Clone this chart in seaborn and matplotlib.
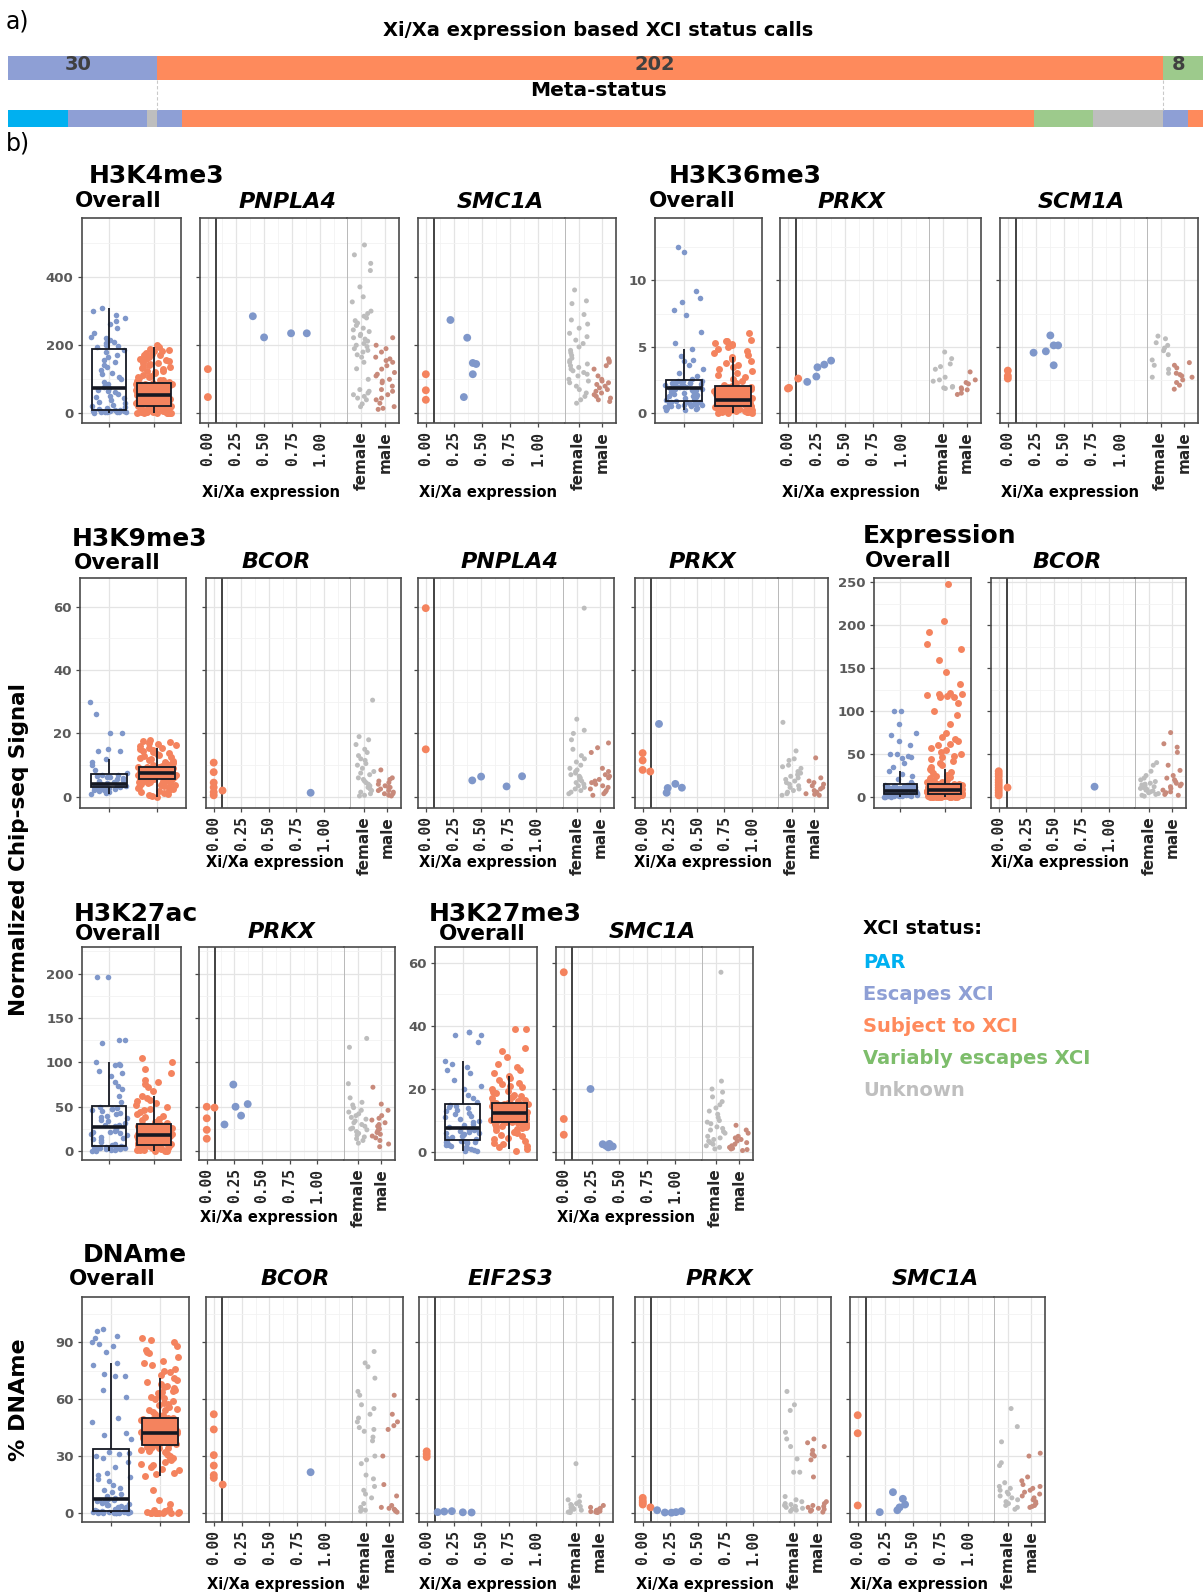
import numpy as np
import pandas as pd
import matplotlib
matplotlib.use("Agg")
import matplotlib.pyplot as plt
import seaborn as sns

# ============================ DATA ============================
# ---- panel a: XCI status calls ----
call_status = ["Escape", "Subject", "Variable"]
call_counts = [30, 202, 8]
meta_status = ["PAR", "Escape", "Unknown", "Escape", "Subject", "Variable", "Unknown", "Escape", "Subject"]
meta_counts = [12, 16, 2, 5, 171, 12, 14, 5, 3]
XCI_CUTOFF = 0.075

# ---- Overall panels (escape / subject genes) ----
k4_esc = [2, 3, 4, 5, 5, 6, 7, 7, 8, 8, 9, 9, 4, 6, 3, 8,
          12, 15, 18, 22, 26, 30, 35, 40, 44, 48, 52, 58, 62, 66, 70, 74,
          78, 85, 92, 100, 108, 115, 120, 128, 135, 142, 150, 158, 165, 172, 180, 186,
          195, 198, 202, 206, 210, 215, 220, 225, 235, 250, 262, 270, 280, 290, 300, 310]
k4_sub = [0, 1, 1, 2, 2, 3, 4, 4, 5, 6, 6, 7, 8, 9, 9, 10, 11, 12, 12, 13, 14, 15, 16, 17, 18, 18, 19, 20,
          0.5, 2.5, 5.5, 7.5, 10.5, 13.5, 16.5, 19.5,
          21, 22, 24, 25, 26, 28, 29, 31, 32, 33, 35, 36, 37, 39, 40, 42, 43, 44, 46, 47, 48, 50, 51, 52, 53, 54, 55, 55,
          22.5, 27.5, 30.5, 34, 38, 45, 49, 53,
          56, 57, 59, 60, 61, 63, 64, 66, 67, 68, 70, 71, 72, 74, 75, 76, 78, 79, 80, 82, 83, 84, 85, 86, 87, 88, 89, 90,
          58, 62, 65.5, 69, 73, 77, 81, 86.5,
          92, 95, 99, 103, 106, 110, 114, 118, 121, 125, 129, 133, 137, 141, 145, 149, 153, 157, 161, 166, 170, 174,
          178, 182, 186, 189, 194, 200, 97, 108, 123, 135, 147, 159, 172, 184]

k36_esc = [0.2, 0.25, 0.3, 0.35, 0.4, 0.45, 0.5, 0.5, 0.55, 0.6, 0.6, 0.65, 0.7, 0.7, 0.75, 0.8, 0.8, 0.85,
           0.9, 1.0, 1.0, 1.1, 1.2, 1.25, 1.3, 1.35, 1.4, 1.45, 1.5, 1.6, 1.65, 1.7, 1.75, 1.8, 1.85, 1.9,
           1.92, 1.95, 2.0, 2.0, 2.0, 2.05, 2.1, 2.1, 2.15, 2.2, 2.2, 2.25, 2.3, 2.3, 2.35, 2.4, 2.4, 2.45,
           2.6, 2.8, 3.0, 3.3, 3.6, 3.9, 4.0, 4.3, 4.8, 5.3, 6.1, 7.4, 7.8, 8.4, 8.7, 9.2, 12.1, 12.5]
k36_sub = [0.0, 0.02, 0.04, 0.06, 0.08, 0.1, 0.12, 0.14, 0.16, 0.18, 0.2, 0.22, 0.24, 0.26, 0.28, 0.3, 0.32, 0.34,
           0.36, 0.38, 0.4, 0.42, 0.43, 0.44, 0.46, 0.47, 0.48, 0.5,
           0.52, 0.54, 0.55, 0.57, 0.59, 0.61, 0.62, 0.64, 0.66, 0.68, 0.7, 0.71, 0.73, 0.75, 0.77, 0.79, 0.8, 0.82,
           0.84, 0.86, 0.88, 0.9, 0.91, 0.93, 0.95, 0.96, 0.98, 1.0,
           1.03, 1.07, 1.1, 1.14, 1.17, 1.21, 1.25, 1.28, 1.32, 1.35, 1.39, 1.43, 1.46, 1.5, 1.54, 1.57, 1.61, 1.64,
           1.68, 1.72, 1.75, 1.79, 1.82, 1.86, 1.9, 1.93, 1.97, 2.0,
           2.05, 2.15, 2.3, 2.45, 2.6, 2.75, 2.9, 3.05, 3.2, 3.35, 3.5, 3.65, 3.8, 3.95, 4.1, 4.25, 4.4, 4.55,
           4.7, 4.85, 5.0, 5.1, 5.2, 5.3, 5.4, 5.45, 5.5, 6.05]

k9_esc = [1, 1.3, 1.6, 1.9, 2.1, 2.3, 2.5, 2.6, 2.7, 2.8, 2.9, 3.0,
          3.1, 3.2, 3.3, 3.4, 3.5, 3.6, 3.7, 3.75, 3.8, 3.85, 3.9, 4.0,
          4.2, 4.5, 4.8, 5.1, 5.4, 5.7, 6.0, 6.2, 6.4, 6.6, 6.8, 7.0,
          7.5, 8.6, 10, 11, 12, 14.5, 14.5, 15, 20, 20, 26, 30]
k9_sub = [0, 0.3, 0.6, 0.9, 1.2, 1.5, 1.8, 2.1, 2.4, 2.7, 3.0, 3.2, 3.4, 3.6, 3.8, 4.0, 4.2, 4.3, 4.5, 4.6, 4.7,
          4.8, 4.9, 5.0, 5.1, 5.2, 5.35, 5.5,
          5.6, 5.65, 5.7, 5.8, 5.85, 5.9, 6.0, 6.1, 6.15, 6.2, 6.3, 6.4, 6.45, 6.5, 6.6, 6.7, 6.75, 6.8, 6.9, 7.0,
          7.05, 7.1, 7.2, 7.25, 7.3, 7.4, 7.45, 7.5,
          7.6, 7.65, 7.7, 7.8, 7.85, 7.9, 8.0, 8.1, 8.15, 8.2, 8.3, 8.4, 8.45, 8.5, 8.6, 8.7, 8.75, 8.8, 8.9, 9.0,
          9.05, 9.1, 9.2, 9.25, 9.3, 9.4, 9.45, 9.5,
          9.7, 9.9, 10.2, 10.5, 10.8, 11.1, 11.4, 11.7, 12.0, 12.3, 12.6, 12.9, 13.2, 13.5, 13.8, 14.1, 14.4, 14.7,
          15.0, 15.3, 15.5, 15.9, 16.3, 16.7, 17.0, 17.3, 17.6, 18.0]

ex_esc = [0, 0.2, 0.4, 0.6, 0.8, 1.0, 1.2, 1.4, 1.6, 1.8, 2.0, 2.1, 2.2, 2.4, 2.5, 2.6, 2.8, 2.9, 3.0,
          3.2, 3.4, 3.6, 3.9, 4.1, 4.3, 4.5, 4.8, 5.0, 5.2, 5.4, 5.7, 5.9, 6.1, 6.3, 6.5, 6.7, 6.9, 7.0,
          7.4, 7.8, 8.2, 8.6, 9.0, 9.4, 9.8, 10.2, 10.6, 11.0, 11.4, 11.8, 12.2, 12.6, 13.0, 13.3, 13.6, 13.8, 14.0,
          15, 18, 21, 24, 27, 30, 35, 40, 45, 47, 48, 50, 50, 60, 65, 72, 75, 85, 100, 100]
ex_sub = [0, 0.1, 0.2, 0.3, 0.4, 0.5, 0.6, 0.7, 0.8, 0.9, 1.0, 1.1, 1.2, 1.3, 1.4, 1.5, 1.6, 1.7, 1.8, 1.9, 2.0,
          2.1, 2.2, 2.3, 2.4, 2.5, 2.6, 2.7, 2.8, 2.85, 2.9, 3.0, 0.15, 0.45, 1.05, 1.75, 2.35, 2.75,
          0.05, 0.25, 0.35, 0.55, 0.65, 0.95, 1.25, 1.45, 1.85, 2.05, 2.45, 2.65,
          3.15, 3.3, 3.45, 3.6, 3.75, 3.9, 4.05, 4.2, 4.35, 4.5, 4.65, 4.8, 4.95, 5.1, 5.25, 5.4, 5.55, 5.7, 5.85,
          6.0, 6.15, 6.3, 6.45, 6.6, 6.75, 6.9, 7.05, 7.2, 7.4, 7.6, 7.8, 8.0, 3.5, 4.4, 5.3, 6.05, 6.85, 7.7,
          3.25, 3.7, 4.15, 4.6, 5.05, 5.5, 5.95, 6.4, 6.95, 7.3, 7.5, 7.9,
          8.2, 8.4, 8.6, 8.8, 9.0, 9.2, 9.4, 9.6, 9.9, 10.1, 10.3, 10.5, 10.8, 11.0, 11.2, 11.4, 11.7, 11.9, 12.1,
          12.3, 12.6, 12.8, 13.0, 13.2, 13.5, 13.7, 13.9, 14.1, 14.4, 14.6, 14.8, 15.0, 8.5, 9.7, 10.9, 12.0, 13.3, 14.5,
          8.3, 8.9, 9.5, 10.0, 10.6, 11.3, 11.8, 12.4, 12.9, 13.6, 14.2, 14.9,
          16, 18, 20, 23, 26, 29, 33, 37, 42, 46, 50, 55, 60, 65, 70, 75, 85, 95, 100, 110, 118, 118, 120, 120,
          132, 145, 160, 172, 178, 192, 205, 248,
          17, 19, 22, 25, 28, 31, 35, 40, 44, 48, 52, 57, 62, 67, 116, 119, 121, 117]

ac_esc = [0, 0.5, 1, 1.5, 2, 2.5, 3, 3, 3.5, 3.5, 4, 4, 4.5, 4.5, 5, 5, 5,
          6, 7, 8, 10, 12, 14, 15, 16, 18, 19, 20, 21, 22, 23, 24, 25, 27,
          28, 29, 30, 32, 34, 35, 37, 38, 40, 42, 43, 45, 46, 47, 48, 49, 50,
          55, 62, 70, 73, 78, 85, 88, 90, 97, 97, 98, 100, 122, 125, 125, 196, 196]
ac_sub = [0, 0.3, 0.6, 1, 1.3, 1.6, 2, 2.3, 2.6, 3, 3.3, 3.6, 4, 4.3, 4.6, 5, 5.2, 5.4, 5.6, 5.8, 6, 6.1, 6.3,
          6.5, 6.6, 6.8, 6.9, 7,
          7.4, 7.8, 8.2, 8.6, 9, 9.4, 9.8, 10.2, 10.6, 11, 11.4, 11.8, 12.2, 12.6, 13, 13.4, 13.8, 14.2, 14.6, 15,
          15.4, 15.8, 16.2, 16.6, 17, 17.4, 17.7, 18,
          18.4, 18.8, 19.2, 19.6, 20, 20.4, 20.8, 21.2, 21.6, 22, 22.4, 22.8, 23.2, 23.6, 24, 24.5, 25, 25.5, 26,
          26.5, 27, 27.5, 28, 28.5, 29, 29.3, 29.7, 30,
          31, 32, 33, 34, 35, 36, 38, 40, 42, 44, 46, 48, 50, 52, 54, 56, 58, 60, 62, 68, 72, 76, 78, 80, 88, 93,
          100, 105]

me3_esc = [0.2, 0.5, 0.8, 1, 1.3, 1.6, 1.9, 2.1, 2.4, 2.7, 2.9, 3.1, 3.2, 3.3, 3.4, 3.5,
           3.8, 4.1, 4.4, 4.7, 5, 5.3, 5.6, 5.9, 6.2, 6.5, 6.8, 7.0, 7.1, 7.2, 7.3, 7.5,
           8, 8.5, 9, 9.5, 10, 10.5, 11, 11.5, 12, 12.5, 13, 13.5, 14, 14.3, 14.6, 15,
           16, 17, 18, 20, 21, 23, 25, 26, 27, 28, 29, 35, 37, 37, 38, 38]
me3_sub = [0.5, 1, 1.5, 2, 2.5, 3, 3.5, 4, 4.5, 5, 5.5, 6, 6.3, 6.6, 6.9, 7.2, 7.5, 7.8, 8, 8.2, 8.4, 8.6, 8.8,
           9, 9.1, 9.2, 9.4, 9.5,
           9.6, 9.7, 9.8, 9.9, 10, 10.1, 10.2, 10.4, 10.5, 10.6, 10.8, 10.9, 11, 11.1, 11.2, 11.4, 11.5, 11.6,
           11.8, 11.9, 12, 12.1, 12.2, 12.3, 12.4, 12.45, 12.5, 12.5,
           12.6, 12.7, 12.8, 12.9, 13, 13.1, 13.2, 13.4, 13.5, 13.6, 13.8, 13.9, 14, 14.1, 14.2, 14.4, 14.5, 14.6,
           14.8, 14.9, 15, 15.1, 15.2, 15.3, 15.35, 15.4, 15.45, 15.5,
           15.7, 16, 16.3, 16.6, 17, 17.4, 17.8, 18.2, 18.6, 19, 19.5, 20, 20.5, 21, 21.5, 22, 23, 23.5, 24, 25,
           26, 27, 28, 30, 32, 33, 39, 39]

dn_esc = [0, 0, 0, 0.1, 0.1, 0.2, 0.2, 0.3, 0.3, 0.4, 0.5, 0.5, 0.6, 0.6, 0.7, 0.8, 0.8, 0.9, 0.9, 1,
          1.1, 1.3, 1.5, 1.7, 2, 2.2, 2.5, 2.8, 3, 3.3, 3.6, 4, 4.4, 4.8, 5.2, 5.7, 6.2, 6.6, 6.8, 7,
          7.5, 8, 9, 10, 11, 12, 13, 15, 17, 18, 19, 20, 21, 24, 27, 29, 30, 31, 31.5, 32,
          39, 41, 42, 48, 50, 61, 65, 72, 72, 73, 78, 79, 85, 88, 89, 90, 92, 93, 96, 97]
dn_sub = [0, 0, 0, 0, 0, 0, 0, 0.5, 0.5, 1, 1, 1.5, 2, 5, 7, 12, 19.5, 21, 22.5, 24, 25.5, 27, 28, 29, 30, 31,
          32, 33, 34, 34.5, 35, 35.5, 20.5, 23, 26, 28.5, 30.5, 32.5, 33.5, 35, 0, 0,
          36.2, 36.4, 36.6, 36.8, 37, 37.2, 37.4, 37.6, 37.8, 38, 38.2, 38.4, 38.6, 38.8, 39, 39.2, 39.4, 39.6,
          39.8, 40, 40.2, 40.4, 40.6, 40.8, 41, 41.2, 41.4, 41.6, 41.7, 41.8, 41.9, 42,
          36.3, 37.1, 37.9, 38.7, 39.5, 40.3, 41.1, 41.5, 36.9, 39.9,
          42.2, 42.5, 42.8, 43, 43.3, 43.5, 43.8, 44, 44.3, 44.5, 44.8, 45, 45.3, 45.5, 45.8, 46, 46.3, 46.5,
          46.8, 47, 47.3, 47.5, 47.8, 48, 48.3, 48.5, 48.8, 49, 49.3, 49.5, 49.8, 50,
          42.6, 43.6, 44.6, 45.6, 46.6, 47.6, 48.6, 49.6, 43.1, 46.1,
          51, 52, 53, 54, 55, 56, 57, 58, 59, 60, 61, 62, 63, 64, 65, 66, 67, 68, 69, 70, 71, 72.5, 74, 76, 78,
          80, 82, 84, 86, 88, 90, 92, 51.5, 54.5, 57.5, 60.5, 63.5, 66.5, 75, 79, 85, 91]

# ---- gene panels: Xi/Xa (subject / escape samples), female & male strips ----
k4_pnpla4_sub_x = [0, 0]
k4_pnpla4_sub_y = [130, 48]
k4_pnpla4_esc_x = [0.40, 0.50, 0.74, 0.88]
k4_pnpla4_esc_y = [285, 223, 235, 235]
k4_pnpla4_female = [494, 465, 440, 419, 371, 342, 327, 300, 293, 285, 280, 272, 265, 258, 250, 245, 240, 232,
                    228, 222, 218, 212, 205, 200, 196, 190, 185, 180, 172, 165, 150, 131, 100, 70, 65, 60, 55,
                    50, 45, 40, 28, 20]
k4_pnpla4_male = [222, 200, 190, 180, 165, 160, 155, 150, 140, 130, 120, 115, 110, 100, 95, 90, 80, 70, 65, 55,
                  45, 40, 30, 20, 15, 12]

k4_smc1a_sub_x = [0, 0, 0]
k4_smc1a_sub_y = [115, 68, 40]
k4_smc1a_esc_x = [0.22, 0.37, 0.42, 0.45, 0.42, 0.34]
k4_smc1a_esc_y = [274, 222, 148, 145, 115, 48]
k4_smc1a_female = [362, 330, 322, 290, 274, 262, 250, 235, 225, 215, 205, 195, 185, 178, 170, 162, 155, 150,
                   145, 140, 135, 130, 125, 120, 115, 110, 100, 95, 90, 80, 70, 60, 50, 40, 30]
k4_smc1a_male = [160, 155, 150, 140, 130, 110, 100, 95, 90, 85, 80, 75, 70, 65, 60, 55, 50, 45, 40, 35]

k36_prkx_sub_x = [0, 0.01, 0.09]
k36_prkx_sub_y = [1.85, 1.9, 2.6]
k36_prkx_esc_x = [0.17, 0.25, 0.26, 0.32, 0.38]
k36_prkx_esc_y = [2.35, 2.75, 3.45, 3.65, 3.95]
k36_prkx_female = [4.6, 4.1, 3.7, 3.5, 3.3, 2.7, 2.5, 2.4, 2.0, 1.95, 1.9, 1.85]
k36_prkx_male = [3.1, 2.5, 2.3, 2.2, 1.9, 1.8, 1.75, 1.5, 1.4]

k36_scm1a_sub_x = [0, 0, 0]
k36_scm1a_sub_y = [3.2, 2.8, 2.6]
k36_scm1a_esc_x = [0.23, 0.34, 0.38, 0.41, 0.45, 0.41]
k36_scm1a_esc_y = [4.55, 4.65, 5.85, 5.1, 5.1, 3.6]
k36_scm1a_female = [5.8, 5.6, 5.3, 5.1, 4.9, 4.7, 4.4, 4.0, 3.6, 3.3, 3.0, 2.7]
k36_scm1a_male = [3.8, 3.6, 3.4, 3.0, 2.9, 2.8, 2.7, 2.5, 2.3, 2.1, 1.8]

k9_bcor_sub_x = [0, 0, 0, 0, 0, 0, 0.08]
k9_bcor_sub_y = [10.8, 7.8, 4.5, 3, 1.5, 0.5, 2]
k9_bcor_esc_x = [0.88]
k9_bcor_esc_y = [1.3]
k9_bcor_female = [30.5, 19, 18, 16.5, 15, 14, 13, 12, 11.5, 10.5, 10, 9, 8, 7.5, 7, 6, 5.5, 5, 4.5, 4, 3.5, 3,
                  2.5, 2, 1.5, 1, 0.5, 0.3]
k9_bcor_male = [8.5, 6, 5.5, 5, 4.5, 4, 3.5, 3, 3, 2.5, 2, 2, 1.5, 1, 1, 0.5, 0.3]

k9_pnpla4_sub_x = [0, 0]
k9_pnpla4_sub_y = [59.5, 15]
k9_pnpla4_esc_x = [0.42, 0.50, 0.73, 0.87]
k9_pnpla4_esc_y = [5.2, 6.4, 3.3, 6.5]
k9_pnpla4_female = [59.5, 24.5, 21, 20, 18, 15, 13, 12, 11, 10, 9, 8.5, 8, 7.5, 7, 6.5, 6, 5.5, 5, 4.5, 4, 3.5,
                    3, 2.5, 2, 1.5, 1]
k9_pnpla4_male = [17, 15.5, 14, 9, 8, 7, 6.5, 6, 5.5, 5, 4.5, 4, 3.5, 3, 2.5, 2, 1.5, 1, 0.5]

k9_prkx_sub_x = [0, 0, 0, 0.07]
k9_prkx_sub_y = [13.8, 11.5, 8.5, 8]
k9_prkx_esc_x = [0.15, 0.23, 0.22, 0.30, 0.36]
k9_prkx_esc_y = [23, 2.8, 1.3, 4.1, 2.9]
k9_prkx_female = [23.5, 14.5, 12, 11.5, 10, 9.5, 9, 8, 7.5, 7, 6.5, 6, 5.5, 5, 4.5, 4, 3.5, 3, 2.5, 2, 1.5, 1,
                  0.5]
k9_prkx_male = [12.3, 6, 5, 4.5, 4, 3.5, 3, 2.5, 2, 1.5, 1, 0.8, 0.5]

ex_bcor_sub_x = [0, 0, 0, 0, 0, 0, 0, 0, 0, 0, 0.08]
ex_bcor_sub_y = [30, 27, 24, 20, 17, 14, 11, 8, 5, 2, 11]
ex_bcor_esc_x = [0.87]
ex_bcor_esc_y = [12]
ex_bcor_female = [40, 37, 30, 25, 22, 20, 18, 16, 15, 14, 13, 12, 11, 10, 9, 8, 7, 6, 5, 4, 3, 2, 1]
ex_bcor_male = [75, 62, 58, 52, 37, 31, 25, 22, 20, 18, 16, 15, 13, 12, 10, 8, 6, 5, 3, 2]

ac_prkx_sub_x = [0, 0, 0, 0, 0.07]
ac_prkx_sub_y = [50, 37, 24, 14, 49]
ac_prkx_esc_x = [0.16, 0.24, 0.26, 0.31, 0.37]
ac_prkx_esc_y = [30, 75, 50, 40, 53]
ac_prkx_female = [127, 117, 76, 60, 55, 52, 49, 46, 44, 42, 40, 38, 36, 34, 32, 30, 28, 26, 25, 24, 22, 20, 18,
                  16, 14, 12, 9]
ac_prkx_male = [72, 53, 46, 40, 37, 35, 32, 30, 28, 27, 25, 23, 21, 19, 17, 15, 12, 8, 5]

me3_smc1a_sub_x = [0, 0, 0]
me3_smc1a_sub_y = [57, 10.5, 5.5]
me3_smc1a_esc_x = [0.24, 0.35, 0.38, 0.41, 0.44, 0.40]
me3_smc1a_esc_y = [20, 2.5, 2.0, 2.6, 1.8, 1.5]
me3_smc1a_female = [57, 22.5, 20, 19, 17.5, 16, 15, 14, 13, 12, 11, 10, 9.5, 9, 8, 7.5, 7, 6.5, 6, 5, 4.5, 4,
                    3.5, 3, 2.5, 2, 1.5, 1]
me3_smc1a_male = [8.5, 7, 6, 5, 4.5, 4, 3.5, 3, 2.5, 2, 1.5, 1.2, 1, 0.8, 0.5]

dn_bcor_sub_x = [0, 0, 0, 0, 0, 0, 0.08]
dn_bcor_sub_y = [52, 44, 30.5, 25, 20, 18.5, 15]
dn_bcor_esc_x = [0.87]
dn_bcor_esc_y = [21.5]
dn_bcor_female = [85, 79, 77, 71, 64, 62, 57, 55, 52, 50, 48, 45, 44, 43, 40, 38, 30, 28, 26, 20, 18, 14, 12,
                  10, 8, 5, 3, 2, 1.5, 1]
dn_bcor_male = [62, 52, 48, 46, 44, 30, 15, 9, 4, 3, 2.5, 2, 1.5, 1, 0.5]

dn_eif2s3_sub_x = [0, 0, 0]
dn_eif2s3_sub_y = [32.5, 29.5, 31]
dn_eif2s3_esc_x = [0.10, 0.16, 0.23, 0.33, 0.41]
dn_eif2s3_esc_y = [0.5, 0.8, 1.0, 0.4, 0.3]
dn_eif2s3_female = [26, 9, 7, 6, 5, 4.5, 4, 3.5, 3, 2.5, 2, 1.5, 1, 0.5, 0.3]
dn_eif2s3_male = [4, 3, 2.5, 2, 1.5, 1.2, 1, 0.8, 0.5, 0.3]

dn_prkx_sub_x = [0, 0, 0, 0, 0.07]
dn_prkx_sub_y = [8, 6.5, 5.5, 4.5, 3]
dn_prkx_esc_x = [0.13, 0.20, 0.26, 0.30, 0.35]
dn_prkx_esc_y = [1.5, 0.3, 0.2, 0.5, 1.0]
dn_prkx_female = [64, 57, 54, 42.5, 39, 35, 28.5, 21.5, 21.5, 8.7, 7, 6, 5, 4.5, 4, 3.5, 3, 2.5, 2, 1.5, 1]
dn_prkx_male = [39, 37, 35, 33, 31, 30, 28, 19, 31, 6, 5, 4, 3.5, 3, 2.5, 2, 1.5, 1, 0.5]

dn_smc1a_sub_x = [0, 0, 0]
dn_smc1a_sub_y = [51.5, 42, 4]
dn_smc1a_esc_x = [0.20, 0.32, 0.41, 0.43, 0.38, 0.36]
dn_smc1a_esc_y = [0.5, 11, 7.5, 4.5, 3, 1.5]
dn_smc1a_female = [55, 45.5, 37.5, 26.5, 25, 16, 14, 13, 12, 11, 10, 9, 8, 7, 6, 5, 4, 3, 2]
dn_smc1a_male = [31.5, 30, 19, 17, 15, 14, 13, 12, 11, 10, 9, 8, 7, 6, 5, 4, 3.5, 3]

legend_labels = ["PAR", "Escapes XCI", "Subject to XCI", "Variably escapes XCI", "Unknown"]
xi_ticks = [0.0, 0.25, 0.5, 0.75, 1.0]
xi_ticklabels = ["0.00", "0.25", "0.50", "0.75", "1.00"]

# ============================ STYLE ============================
sns.set_theme(style="ticks")
plt.rcParams["font.family"] = ["DejaVu Sans"]
plt.rcParams["text.color"] = "black"

STATUS_COL = {"PAR": "#00b0f0", "Escape": "#8e9fd5", "Subject": "#fe8a5c",
              "Variable": "#9dca8c", "Unknown": "#bebebe"}
ESC = "#7f97ca"
SUB = "#f4835e"
FEM = "#bdbdbd"
MALE = "#c88a7b"
SPINE = "#4a4a4a"
GRID = "#e4e4e4"
GRIDMIN = "#f2f2f2"

W, H = 1203, 1595
fig = plt.figure(figsize=(W / 100, H / 100), dpi=100)
np.random.seed(7)


def rect(x0, y0, x1, y1):
    return [x0 / W, 1 - y1 / H, (x1 - x0) / W, (y1 - y0) / H]


def ftext(x, y, s, **kw):
    fig.text(x / W, 1 - y / H, s, **kw)


def style_axes(ax, ylim, major, minor):
    ax.set_ylim(*ylim)
    ax.set_yticks(major)
    ax.set_yticks(minor, minor=True)
    ax.grid(True, which="major", color=GRID, lw=0.9)
    ax.grid(True, which="minor", color=GRIDMIN, lw=0.6)
    ax.set_axisbelow(True)
    for s in ax.spines.values():
        s.set_visible(True)
        s.set_color(SPINE)
        s.set_linewidth(1.2)
    ax.tick_params(which="major", length=3, width=0.9, color=SPINE, pad=3)
    ax.tick_params(which="minor", length=0)
    ax.set_xlabel("")
    ax.set_ylabel("")


def overall_panel(box, esc, sub, ylim, major, minor):
    ax = fig.add_axes(rect(*box))
    order = ["Escape", "Subject"]
    for grp, vals, col, sz in (("Escape", esc, ESC, 4.0), ("Subject", sub, SUB, 5.0)):
        d = pd.DataFrame({"status": [grp] * len(vals), "value": list(vals)})
        sns.stripplot(data=d, x="status", y="value", order=order, color=col, jitter=0.4,
                      size=sz, linewidth=0, ax=ax, zorder=2)
    df = pd.DataFrame({"status": ["Escape"] * len(esc) + ["Subject"] * len(sub),
                       "value": list(esc) + list(sub)})
    sns.boxplot(data=df, x="status", y="value", order=order, showfliers=False, showcaps=False,
                width=0.75, color="white", linecolor="#151822", linewidth=1.3, ax=ax,
                boxprops={"zorder": 3}, whiskerprops={"zorder": 3},
                medianprops={"zorder": 4, "linewidth": 2.6})
    ax.patches[0].set_facecolor("none")
    ax.patches[1].set_facecolor(SUB)
    ax.set_xlim(-0.6, 1.6)
    style_axes(ax, ylim, major, minor)
    ax.set_xticks([0, 1])
    ax.set_xticklabels(["", ""])
    ax.set_yticklabels([f"{v:g}" for v in major])
    ax.tick_params(axis="y", labelsize=9.5, labelcolor="#5a5a5a")
    for t in ax.get_yticklabels():
        t.set_fontweight("bold")
    return ax


def gene_panel(box, ylim, major, minor, sub_x, sub_y, esc_x, esc_y, female, male, xlab_y):
    x0, y0, x1, y1 = box
    xs = x0 + 0.74 * (x1 - x0)
    axL = fig.add_axes(rect(x0, y0, xs, y1))
    axR = fig.add_axes(rect(xs, y0, x1, y1))
    pts = pd.DataFrame({"xi": list(sub_x) + list(esc_x), "value": list(sub_y) + list(esc_y),
                        "status": ["Subject"] * len(sub_x) + ["Escape"] * len(esc_x)})
    axL.axvline(XCI_CUTOFF, color="#333333", lw=1.3, zorder=2)
    sns.scatterplot(data=pts, x="xi", y="value", hue="status",
                    palette={"Subject": SUB, "Escape": ESC}, s=32, linewidth=0, ax=axL,
                    legend=False, zorder=3)
    axL.set_xlim(-0.07, 1.24)
    style_axes(axL, ylim, major, minor)
    axL.set_xticks(xi_ticks)
    axL.set_xticklabels(xi_ticklabels, rotation=90, fontfamily="DejaVu Sans Mono",
                        fontweight="bold", fontsize=10.5)
    axL.set_xticks([0.125, 0.375, 0.625, 0.875, 1.125], minor=True)
    axL.set_yticklabels([])
    axL.spines["right"].set_visible(False)

    sexdf = pd.DataFrame({"sex": ["female"] * len(female) + ["male"] * len(male),
                          "value": list(female) + list(male)})
    sns.stripplot(data=sexdf, x="sex", y="value", hue="sex", order=["female", "male"],
                  hue_order=["female", "male"], palette={"female": FEM, "male": MALE},
                  jitter=0.42, size=3.6, linewidth=0, ax=axR, legend=False, zorder=3)
    axR.set_xlim(-0.6, 1.6)
    style_axes(axR, ylim, major, minor)
    axR.tick_params(axis="y", which="both", left=False, labelleft=False)
    axR.spines["left"].set_color("#b8b8b8")
    axR.spines["left"].set_linewidth(0.7)
    axR.set_xticks([0, 1])
    axR.set_xticklabels(["female", "male"], rotation=90, fontweight="bold", fontsize=11)
    ftext((x0 + xs) / 2 - 3, xlab_y, "Xi/Xa expression", ha="center", va="baseline",
          fontsize=10.5, fontweight="bold")
    return axL, axR


# ============================ PANEL a ============================
axA = fig.add_axes(rect(8, 50, 1203, 132))
axA.set_xlim(0, sum(call_counts))
axA.set_ylim(132, 50)
left = 0
for st, c in zip(call_status, call_counts):
    axA.barh(68, c, left=left, height=24, color=STATUS_COL[st], linewidth=0)
    axA.text(left + c / 2 - 1, 64, str(c), ha="center", va="center", fontsize=14,
             fontweight="bold", color="#404040")
    left += c
left = 0
for st, c in zip(meta_status, meta_counts):
    axA.barh(118.5, c, left=left, height=17, color=STATUS_COL[st], linewidth=0)
    left += c
axA.vlines([call_counts[0], call_counts[0] + call_counts[1]], 80, 110, colors="#c9c9c9",
           linestyles=(0, (3, 2)), lw=0.8)
axA.text(118.5, 91, "Meta-status", ha="center", va="center", fontsize=14.5, fontweight="bold")
axA.axis("off")
ftext(598, 30, "Xi/Xa expression based XCI status calls", ha="center", va="center",
      fontsize=14, fontweight="bold")
ftext(6, 22, "a)", ha="left", va="center", fontsize=17)
ftext(6, 144, "b)", ha="left", va="center", fontsize=17)

# ============================ PANEL b ============================
K4 = ((-28, 573), [0, 200, 400], [100, 300, 500])
K36 = ((-0.75, 14.7), [0, 5, 10], [2.5, 7.5, 12.5])
K9 = ((-3.5, 69), [0, 20, 40, 60], [10, 30, 50])
EX = ((-12.8, 255), [0, 50, 100, 150, 200, 250], [25, 75, 125, 175, 225])
AC = ((-10, 230), [0, 50, 100, 150, 200], [25, 75, 125, 175, 225])
ME3 = ((-2.5, 65), [0, 20, 40, 60], [10, 30, 50])
DN = ((-4.7, 113.7), [0, 30, 60, 90], [15, 45, 75, 105])

# Row 1
overall_panel((82, 218, 181, 423), k4_esc, k4_sub, *K4)
gene_panel((200, 218, 399, 423), *K4, k4_pnpla4_sub_x, k4_pnpla4_sub_y, k4_pnpla4_esc_x,
           k4_pnpla4_esc_y, k4_pnpla4_female, k4_pnpla4_male, 497)
gene_panel((418, 218, 616, 423), *K4, k4_smc1a_sub_x, k4_smc1a_sub_y, k4_smc1a_esc_x,
           k4_smc1a_esc_y, k4_smc1a_female, k4_smc1a_male, 497)
overall_panel((655, 218, 762, 423), k36_esc, k36_sub, *K36)
gene_panel((780, 218, 981, 423), *K36, k36_prkx_sub_x, k36_prkx_sub_y, k36_prkx_esc_x,
           k36_prkx_esc_y, k36_prkx_female, k36_prkx_male, 497)
gene_panel((1000, 218, 1198, 423), *K36, k36_scm1a_sub_x, k36_scm1a_sub_y, k36_scm1a_esc_x,
           k36_scm1a_esc_y, k36_scm1a_female, k36_scm1a_male, 497)

# Row 2
overall_panel((80, 578, 186, 808), k9_esc, k9_sub, *K9)
gene_panel((206, 578, 401, 808), *K9, k9_bcor_sub_x, k9_bcor_sub_y, k9_bcor_esc_x,
           k9_bcor_esc_y, k9_bcor_female, k9_bcor_male, 867)
gene_panel((418, 578, 614, 808), *K9, k9_pnpla4_sub_x, k9_pnpla4_sub_y, k9_pnpla4_esc_x,
           k9_pnpla4_esc_y, k9_pnpla4_female, k9_pnpla4_male, 867)
gene_panel((635, 578, 828, 808), *K9, k9_prkx_sub_x, k9_prkx_sub_y, k9_prkx_esc_x,
           k9_prkx_esc_y, k9_prkx_female, k9_prkx_male, 867)
overall_panel((874, 578, 971, 808), ex_esc, ex_sub, *EX)
gene_panel((991, 578, 1186, 808), *EX, ex_bcor_sub_x, ex_bcor_sub_y, ex_bcor_esc_x,
           ex_bcor_esc_y, ex_bcor_female, ex_bcor_male, 867)

# Row 3
overall_panel((82, 947, 181, 1160), ac_esc, ac_sub, *AC)
gene_panel((199, 947, 395, 1160), *AC, ac_prkx_sub_x, ac_prkx_sub_y, ac_prkx_esc_x,
           ac_prkx_esc_y, ac_prkx_female, ac_prkx_male, 1222)
overall_panel((435, 947, 537, 1160), me3_esc, me3_sub, *ME3)
gene_panel((556, 947, 753, 1160), *ME3, me3_smc1a_sub_x, me3_smc1a_sub_y, me3_smc1a_esc_x,
           me3_smc1a_esc_y, me3_smc1a_female, me3_smc1a_male, 1222)

# Row 4
overall_panel((82, 1297, 189, 1522), dn_esc, dn_sub, *DN)
gene_panel((206, 1297, 403, 1522), *DN, dn_bcor_sub_x, dn_bcor_sub_y, dn_bcor_esc_x,
           dn_bcor_esc_y, dn_bcor_female, dn_bcor_male, 1589)
gene_panel((419, 1297, 613, 1522), *DN, dn_eif2s3_sub_x, dn_eif2s3_sub_y, dn_eif2s3_esc_x,
           dn_eif2s3_esc_y, dn_eif2s3_female, dn_eif2s3_male, 1589)
gene_panel((635, 1297, 831, 1522), *DN, dn_prkx_sub_x, dn_prkx_sub_y, dn_prkx_esc_x,
           dn_prkx_esc_y, dn_prkx_female, dn_prkx_male, 1589)
gene_panel((850, 1297, 1045, 1522), *DN, dn_smc1a_sub_x, dn_smc1a_sub_y, dn_smc1a_esc_x,
           dn_smc1a_esc_y, dn_smc1a_female, dn_smc1a_male, 1589)

# ---- titles ----
MARK = dict(ha="center", va="baseline", fontsize=18, fontweight="bold")
OVR = dict(ha="center", va="baseline", fontsize=15.5, fontweight="bold")
GENE = dict(ha="center", va="baseline", fontsize=16, fontweight="bold", fontstyle="italic")

ftext(157, 183, "H3K4me3", **MARK)
ftext(118, 207, "Overall", **OVR)
ftext(288, 208, "PNPLA4", **GENE)
ftext(500, 208, "SMC1A", **GENE)
ftext(745, 183, "H3K36me3", **MARK)
ftext(692, 207, "Overall", **OVR)
ftext(851, 208, "PRKX", **GENE)
ftext(1081, 208, "SCM1A", **GENE)

ftext(140, 546, "H3K9me3", **MARK)
ftext(117, 569, "Overall", **OVR)
ftext(276, 568, "BCOR", **GENE)
ftext(510, 568, "PNPLA4", **GENE)
ftext(702, 568, "PRKX", **GENE)
ftext(940, 543, "Expression", **MARK)
ftext(908, 567, "Overall", **OVR)
ftext(1067, 568, "BCOR", **GENE)

ftext(136, 921, "H3K27ac", **MARK)
ftext(118, 940, "Overall", **OVR)
ftext(281, 938, "PRKX", **GENE)
ftext(505, 921, "H3K27me3", **MARK)
ftext(482, 940, "Overall", **OVR)
ftext(652, 938, "SMC1A", **GENE)

ftext(135, 1262, "DNAme", **MARK)
ftext(112, 1285, "Overall", **OVR)
ftext(295, 1285, "BCOR", **GENE)
ftext(510, 1285, "EIF2S3", **GENE)
ftext(719, 1285, "PRKX", **GENE)
ftext(935, 1285, "SMC1A", **GENE)

# ---- y labels ----
ftext(19, 850, "Normalized Chip-seq Signal", rotation=90, ha="center", va="center",
      fontsize=15.5, fontweight="bold")
ftext(19, 1400, "% DNAme", rotation=90, ha="center", va="center", fontsize=16, fontweight="bold")

# ---- legend ----
leg_cols = [STATUS_COL["PAR"], "#8e9fd5", "#ff8a5c", "#7dbd6b", "#bfbfbf"]
ftext(863, 928, "XCI status:", ha="left", va="center", fontsize=14, fontweight="bold")
for i, (lab, col) in enumerate(zip(legend_labels, leg_cols)):
    ftext(863, 962 + i * 32.2, lab, ha="left", va="center", fontsize=14, fontweight="bold", color=col)

fig.savefig("out.png", dpi=100)
